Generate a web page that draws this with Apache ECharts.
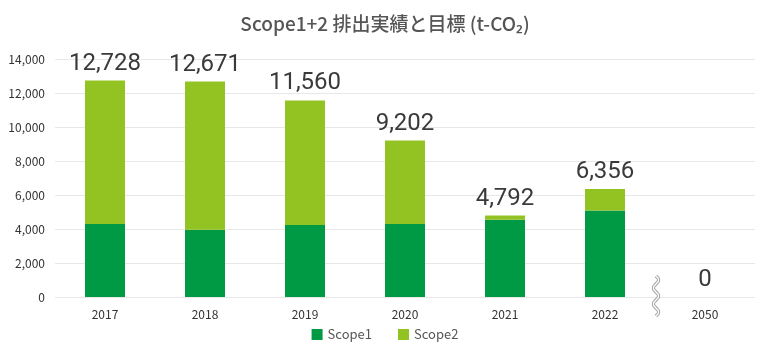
<!DOCTYPE html>
<html><head><meta charset="utf-8">
<script src="https://cdn.jsdelivr.net/npm/echarts@6/dist/echarts.min.js"></script>
<style>html,body{margin:0;padding:0;background:#fff}#c{width:770px;height:360px}</style>
</head><body><div id="c"></div>
<script>
const categories = ['2017','2018','2019','2020','2021','2022','2050'];
const scope1 = [4300, 3960, 4230, 4290, 4545, 5090, 0];
const scope2 = [8428, 8711, 7330, 4912, 247, 1266, 0];
const totals = [12728, 12671, 11560, 9202, 4792, 6356, 0];
const yTicks = [0, 2000, 4000, 6000, 8000, 10000, 12000, 14000];

(function () {
const FONT = '"Noto Sans CJK JP", "Noto Sans", sans-serif';
const chart = echarts.init(document.getElementById('c'), null, {renderer: 'canvas'});
chart.setOption({
  animation: false,
  title: {
    text: 'Scope1+2 排出実績と目標 (t-CO₂)',
    left: 'center', top: 9,
    textStyle: {fontFamily: FONT, fontSize: 19, fontWeight: 500, color: '#555'}
  },
  legend: {
    bottom: 14, left: 'center',
    itemWidth: 11, itemHeight: 11, itemGap: 26,
    icon: 'rect',
    textStyle: {fontFamily: FONT, fontSize: 13, color: '#555'},
    data: ['Scope1', 'Scope2']
  },
  grid: {left: 55, right: 15, top: 59, bottom: 63, containLabel: false},
  xAxis: {
    type: 'category', data: categories,
    axisLine: {show: false}, axisTick: {show: false},
    axisLabel: {fontFamily: FONT, fontSize: 12, color: '#333', margin: 11}
  },
  yAxis: {
    type: 'value', min: yTicks[0], max: yTicks[yTicks.length - 1], interval: 2000,
    axisLine: {show: false}, axisTick: {show: false},
    splitLine: {lineStyle: {color: '#e8e8e8', width: 1}},
    axisLabel: {
      fontFamily: FONT, fontSize: 12, color: '#333', margin: 10,
      formatter: v => v.toLocaleString('en-US')
    }
  },
  series: [
    {
      name: 'Scope1', type: 'bar', stack: 'total', data: scope1, barWidth: 40,
      itemStyle: {color: '#009a44'}
    },
    {
      name: 'Scope2', type: 'bar', stack: 'total', data: scope2, barWidth: 40,
      itemStyle: {color: '#93c322'},
      label: {
        show: true, position: 'top', distance: 5,
        fontFamily: 'Roboto, "Noto Sans", sans-serif', fontSize: 24, fontWeight: 'normal', color: '#3a3a3a',
        formatter: p => totals[p.dataIndex].toLocaleString('en-US')
      }
    }
  ]
});

// axis break decoration between 2022 and 2050
const pA = chart.convertToPixel({xAxisIndex: 0}, '2022');
const pB = chart.convertToPixel({xAxisIndex: 0}, '2050');
const y0 = chart.convertToPixel({yAxisIndex: 0}, 0);
const cx = (pA + pB) / 2 + 1;
const pts = [];
const yStart = y0 - 21, h = 40, n = 40;
for (let i = 0; i <= n; i++) {
  const t = i / n;
  pts.push([cx + 2.6 * Math.sin(t * Math.PI * 5), yStart + t * h]);
}
chart.setOption({
  graphic: [
    {type: 'polyline', shape: {points: pts}, style: {stroke: '#999', lineWidth: 3.2, fill: null}, z: 100},
    {type: 'polyline', shape: {points: pts}, style: {stroke: '#fff', lineWidth: 1.4, fill: null}, z: 101}
  ]
});
})();
</script></body></html>
